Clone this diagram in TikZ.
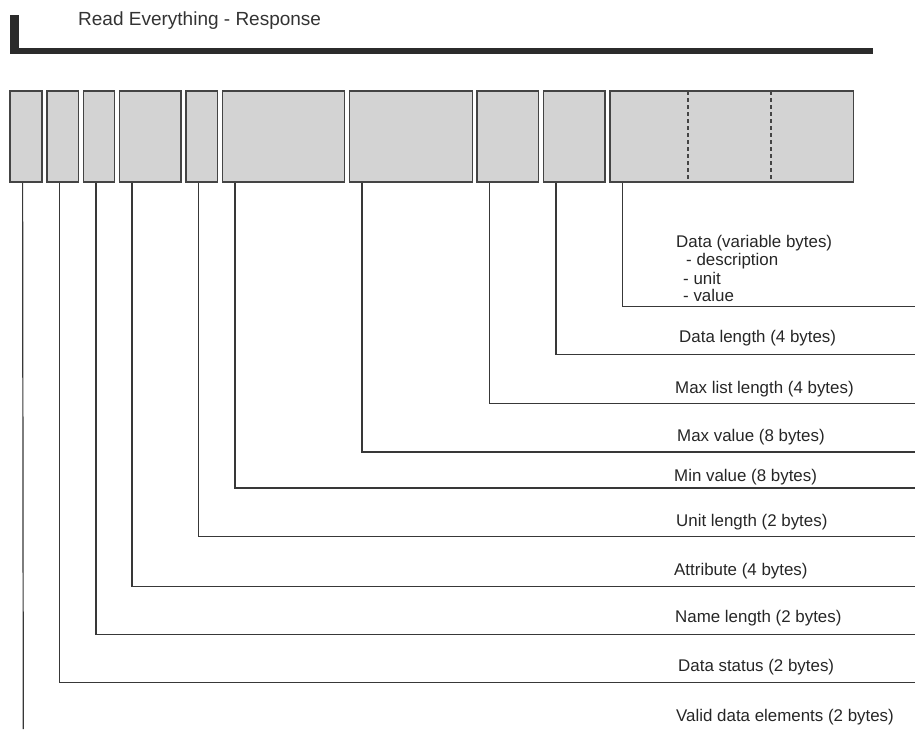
\documentclass[tikz,border=0pt]{standalone}
\usepackage{fontspec}
\setmainfont{Liberation Sans}
\usetikzlibrary{calc}
\definecolor{boxfill}{HTML}{D3D3D3}
\definecolor{boxline}{HTML}{444444}
\definecolor{barcol}{HTML}{2B2B2B}
\definecolor{wirecol}{HTML}{383838}
\begin{document}
\begin{tikzpicture}[x=1pt,y=-1pt,
  field/.style={draw=boxline, fill=boxfill, line width=1.6pt, inner sep=0pt, minimum height=91pt},
  wire/.style={draw=wirecol, line width=1.2pt},
  lbl/.style={anchor=west, inner sep=0pt, font=\fontsize{16.9}{18}\selectfont, text=black!85},
  divider/.style={draw=boxline, line width=1.4pt, dash pattern=on 4pt off 3pt}]
\useasboundingbox (0,0) rectangle (915,729);
% title bracket
\fill[barcol] (10,15) rectangle (19,54);
\fill[barcol] (10,47.5) rectangle (873,54);
\node[anchor=west, inner sep=0pt, font=\fontsize{19}{21}\selectfont, text=black!80] (title) at (78,21) {Read Everything - Response};
% fields
\node[field, minimum width=31.7pt] (b1) at (25.85,136.5) {};
\node[field, minimum width=31.6pt] (b2) at (62.5,136.5) {};
\node[field, minimum width=31pt] (b3) at (98.8,136.5) {};
\node[field, minimum width=61.7pt] (b4) at (150.15,136.5) {};
\node[field, minimum width=31.3pt] (b5) at (201.65,136.5) {};
\node[field, minimum width=122pt] (b6) at (283.3,136.5) {};
\node[field, minimum width=123pt] (b7) at (410.8,136.5) {};
\node[field, minimum width=61.6pt] (b8) at (507.5,136.5) {};
\node[field, minimum width=61.7pt] (b9) at (574.15,136.5) {};
\node[field, minimum width=243.3pt] (b10) at (731.65,136.5) {};
\draw[divider] (b10.north west) ++(78.7,1) coordinate (d1t) -- (d1t |- b10.south);
\draw[divider] (b10.north west) ++(161.7,1) coordinate (d2t) -- (d2t |- b10.south);
% wire ends
\coordinate (e10) at (915,306.5);
\coordinate (e9) at (915,354.5);
\coordinate (e8) at (915,403.5);
\coordinate (e7) at (915,452);
\coordinate (e6) at (915,488);
\coordinate (e5) at (915,536.5);
\coordinate (e4) at (915,586.5);
\coordinate (e3) at (915,634.5);
\coordinate (e2) at (915,682.5);
\coordinate (e1) at (23.3,729);
% wires
\foreach \b in {2,...,10}{
  \draw[wire] ([xshift=13.4pt]b\b.south west) |- (e\b);
}
\draw[wire] ([xshift=13.4pt]b1.south west) -- (e1);
% labels
\node[lbl] (l10a) at (676,243) {Data (variable bytes)};
\node[lbl] (l10b) at (686,261) {- description};
\node[lbl] (l10c) at (683,278) {- unit};
\node[lbl] (l10d) at (683,295) {- value};
\node[lbl] (l9) at (679,338) {Data length (4 bytes)};
\node[lbl] (l8) at (675,389) {Max list length (4 bytes)};
\node[lbl] (l7) at (677,437) {Max value (8 bytes)};
\node[lbl] (l6) at (674,477) {Min value (8 bytes)};
\node[lbl] (l5) at (676,522) {Unit length (2 bytes)};
\node[lbl] (l4) at (674,571) {Attribute (4 bytes)};
\node[lbl] (l3) at (675,618) {Name length (2 bytes)};
\node[lbl] (l2) at (678,667) {Data status (2 bytes)};
\node[lbl] (l1) at (676,717) {Valid data elements (2 bytes)};
\end{tikzpicture}
\end{document}
